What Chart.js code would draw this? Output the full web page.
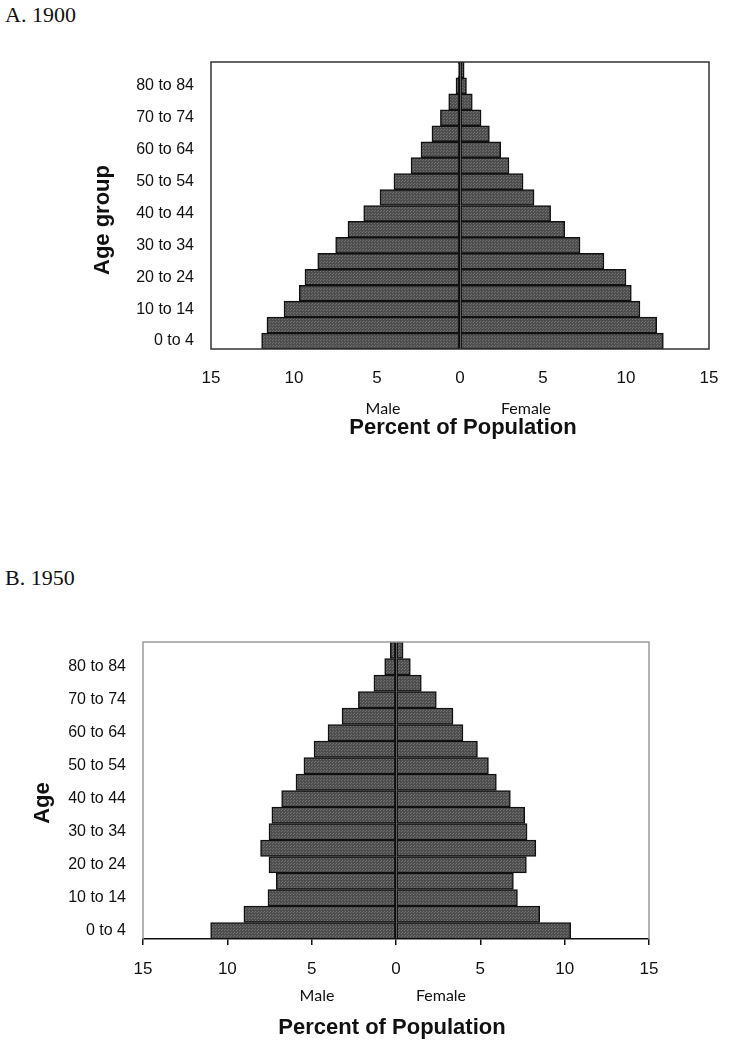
<!DOCTYPE html>
<html>
<head>
<meta charset="utf-8">
<script src="https://cdn.jsdelivr.net/npm/chart.js@4/dist/chart.umd.min.js"></script>
<style>
  body { margin: 0; background: #fff; width: 731px; height: 1050px; position: relative; overflow: hidden; }
  .panel-title { position: absolute; left: 5px; font: 22px "Liberation Serif", "Times New Roman", serif; color: #111; line-height: 24px; }
  canvas { position: absolute; left: 0; }
</style>
</head>
<body>
<div class="panel-title" style="top:3px">A. 1900</div>
<canvas id="chart1900" width="731" height="470" style="top:0"></canvas>
<div class="panel-title" style="top:566px">B. 1950</div>
<canvas id="chart1950" width="731" height="490" style="top:560px"></canvas>
<script>
/**
 * Data (bottom row first)
 */
const ageGroups = ['0 to 4', '5 to 9', '10 to 14', '15 to 19', '20 to 24', '25 to 29', '30 to 34',
  '35 to 39', '40 to 44', '45 to 49', '50 to 54', '55 to 59', '60 to 64', '65 to 69',
  '70 to 74', '75 to 79', '80 to 84', '85+'];
const male1900 = [11.95, 11.63, 10.6, 9.68, 9.34, 8.57, 7.49, 6.75, 5.8, 4.82, 3.98, 2.95, 2.35, 1.69, 1.18, 0.68, 0.24, 0.11];
const female1900 = [12.25, 11.85, 10.84, 10.32, 10.0, 8.67, 7.23, 6.31, 5.46, 4.46, 3.8, 2.95, 2.45, 1.77, 1.27, 0.74, 0.39, 0.25];
const male1950 = [10.99, 9.02, 7.59, 7.1, 7.53, 8.03, 7.53, 7.36, 6.78, 5.93, 5.46, 4.86, 4.03, 3.2, 2.23, 1.31, 0.67, 0.34];
const female1950 = [10.36, 8.52, 7.2, 6.96, 7.73, 8.29, 7.77, 7.63, 6.78, 5.95, 5.48, 4.83, 3.97, 3.38, 2.39, 1.5, 0.85, 0.42];
const percentTicks = [-15, -10, -5, 0, 5, 10, 15];

/**
 * Dotted gray fill like the old spreadsheet pattern
 */
function barPattern() {
  const tile = document.createElement('canvas');
  tile.width = 3;
  tile.height = 3;
  const ctx = tile.getContext('2d');
  ctx.fillStyle = '#4e4e4e';
  ctx.fillRect(0, 0, 3, 3);
  ctx.fillStyle = '#727272';
  ctx.fillRect(0, 0, 1, 1);
  ctx.fillRect(2, 1, 1, 1);
  return document.createElement('canvas').getContext('2d').createPattern(tile, 'repeat');
}

/**
 * Labels and frame drawn on top of the chart
 */
function extrasPlugin({ frame, texts }) {
  return {
    id: 'extras',
    afterDraw(chart) {
      const { ctx, chartArea: a } = chart;
      ctx.save();
      ctx.strokeStyle = frame.color;
      ctx.lineWidth = frame.width;
      ctx.beginPath();
      if (frame.full) {
        ctx.rect(a.left, a.top, a.right - a.left, a.bottom - a.top);
      } else {
        ctx.moveTo(a.left, a.bottom);
        ctx.lineTo(a.left, a.top);
        ctx.lineTo(a.right, a.top);
        ctx.lineTo(a.right, a.bottom);
      }
      ctx.stroke();
      ctx.fillStyle = '#111';
      ctx.textAlign = 'center';
      ctx.textBaseline = 'middle';
      texts.forEach((t) => {
        ctx.save();
        ctx.font = t.font;
        ctx.translate(t.x, t.y);
        if (t.rotate) ctx.rotate(-Math.PI / 2);
        ctx.fillText(t.text, 0, 0);
        ctx.restore();
      });
      ctx.restore();
    },
  };
}

function createPyramid({ selector, male, female, box, ticks, frame, texts }) {
  const ctx = document.getElementById(selector).getContext('2d');
  const fill = barPattern();
  const bar = {
    backgroundColor: fill,
    borderColor: '#111',
    borderWidth: 1.5,
    borderSkipped: false,
    barPercentage: 1,
    categoryPercentage: 1,
  };
  return new Chart(ctx, {
    type: 'bar',
    data: {
      labels: ageGroups,
      datasets: [
        { label: 'Male', data: male.map((v) => -v), ...bar },
        { label: 'Female', data: female, ...bar },
      ],
    },
    options: {
      indexAxis: 'y',
      responsive: false,
      animation: false,
      layout: { padding: { left: 0, top: box.top, right: box.right, bottom: 0 } },
      plugins: { legend: { display: false }, tooltip: { enabled: false } },
      scales: {
        x: {
          type: 'linear',
          stacked: true,
          min: -15,
          max: 15,
          z: 1,
          afterBuildTicks: (scale) => {
            scale.ticks = percentTicks.map((v) => ({ value: v }));
          },
          afterFit: (scale) => {
            scale.height = box.xHeight;
          },
          ticks: {
            callback: (v) => Math.abs(v),
            padding: ticks.padding,
            color: '#111',
            font: { family: 'Liberation Sans, Arial', size: 17 },
            maxRotation: 0,
          },
          grid: {
            drawOnChartArea: true,
            drawTicks: true,
            tickLength: ticks.length,
            // only the zero line shows inside the plot
            color: (c) => (c.tick && c.tick.value === 0 ? '#111' : 'rgba(0,0,0,0)'),
            tickColor: ticks.color,
            lineWidth: 1.5,
          },
          border: { display: ticks.axisLine, color: '#111', width: 1.5 },
        },
        y: {
          type: 'category',
          stacked: true,
          reverse: true,
          afterFit: (scale) => {
            scale.width = box.left;
          },
          ticks: {
            autoSkip: false,
            padding: 17,
            color: '#111',
            font: { family: 'Liberation Sans, Arial', size: 16 },
            callback: (v, i) => (i % 2 === 0 ? ageGroups[i] : ''),
          },
          grid: { display: false, drawTicks: false },
          border: { display: false },
        },
      },
    },
    plugins: [extrasPlugin({ frame, texts })],
  });
}

const smallFont = '16px Lato, "Open Sans", sans-serif';
const boldFont = 'bold 22px "Liberation Sans", Arial, sans-serif';

createPyramid({
  selector: 'chart1900',
  male: male1900,
  female: female1900,
  box: { left: 211, top: 62, right: 22, xHeight: 121 },
  ticks: { length: 16, color: 'rgba(0,0,0,0)', padding: 3, axisLine: false },
  frame: { full: true, color: '#333', width: 1.5 },
  texts: [
    { text: 'Male', x: 383, y: 409, font: smallFont },
    { text: 'Female', x: 526, y: 409, font: smallFont },
    { text: 'Percent of Population', x: 463, y: 428, font: boldFont },
    { text: 'Age group', x: 103, y: 220, font: boldFont, rotate: true },
  ],
});

createPyramid({
  selector: 'chart1950',
  male: male1950,
  female: female1950,
  box: { left: 143, top: 82, right: 82, xHeight: 111 },
  ticks: { length: 6, color: '#111', padding: 14, axisLine: true },
  frame: { full: false, color: '#9a9a9a', width: 1.5 },
  texts: [
    { text: 'Male', x: 317, y: 436, font: smallFont },
    { text: 'Female', x: 441, y: 436, font: smallFont },
    { text: 'Percent of Population', x: 392, y: 468, font: boldFont },
    { text: 'Age', x: 43, y: 243, font: boldFont, rotate: true },
  ],
});
</script>
</body>
</html>
